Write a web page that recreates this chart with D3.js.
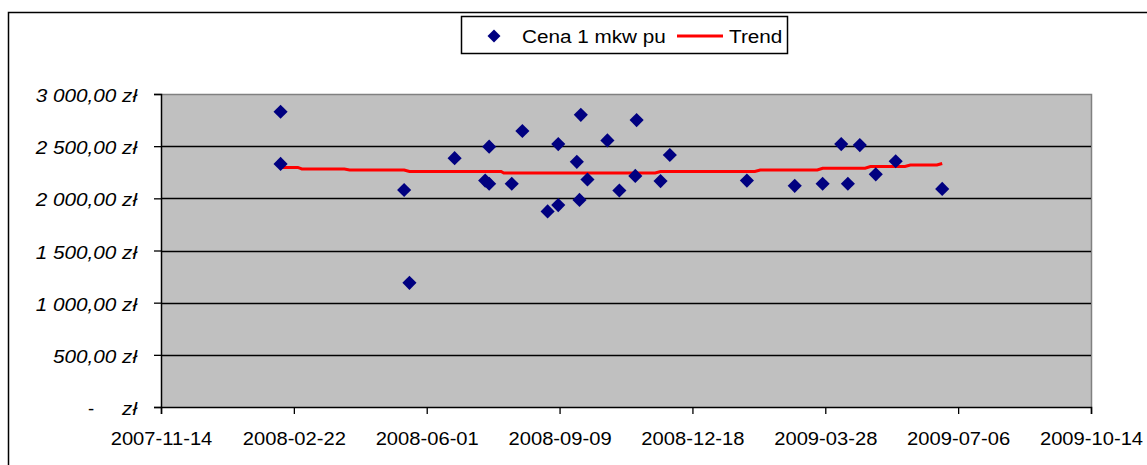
<!DOCTYPE html>
<html>
<head>
<meta charset="utf-8">
<script src="https://cdn.jsdelivr.net/npm/d3@7"></script>
<style>
  body { margin: 0; background: #fff; }
  svg { display: block; font-family: "Liberation Sans", Arial, sans-serif; }
</style>
</head>
<body>
<svg id="chart" width="1147" height="465"></svg>
<script>
// data
const priceDates = ["2008-02-12","2008-02-12","2008-05-15","2008-05-19","2008-06-22","2008-07-15","2008-07-18","2008-07-18",
  "2008-08-04","2008-08-12","2008-08-31","2008-09-08","2008-09-08","2008-09-22","2008-09-24","2008-09-25","2008-09-30",
  "2008-10-15","2008-10-24","2008-11-06","2008-11-05","2008-11-24","2008-12-01","2009-01-28","2009-03-05","2009-03-26",
  "2009-04-09","2009-04-14","2009-04-23","2009-05-05","2009-05-20","2009-06-24"];
const prices = [2830,2330,2080,1190,2385,2170,2495,2140,
  2140,2645,1875,1935,2520,2350,1985,2800,2180,
  2555,2075,2750,2215,2165,2415,2170,2120,2140,
  2520,2140,2510,2230,2355,2090];

const trendDates = ["2008-02-12","2008-02-25","2008-02-28","2008-03-31","2008-04-04","2008-05-15","2008-05-19",
  "2008-07-27","2008-07-29","2008-11-20","2008-11-24","2009-02-03","2009-02-07","2009-03-22","2009-03-26",
  "2009-04-27","2009-05-01","2009-05-27","2009-05-31","2009-06-20","2009-06-24"];
const trendPrices = [2296,2296,2281,2281,2272,2272,2257,
  2257,2243,2243,2257,2257,2272,2272,2288,
  2288,2305,2305,2320,2320,2334];

const xTickLabels = ["2007-11-14","2008-02-22","2008-06-01","2008-09-09","2008-12-18","2009-03-28","2009-07-06","2009-10-14"];
const yTicks = [0,500,1000,1500,2000,2500,3000];

const seriesNames = ["Cena 1 mkw pu", "Trend"];

const parse = d3.utcParse("%Y-%m-%d");
const sx = 1.12; // text in the picture is a bit wider than tall

let svg = d3.select('#chart');
let pLeft = 161, pRight = 1091, pTop = 94, pBottom = 407;

let x = d3.scaleUtc()
  .domain([parse(xTickLabels[0]), parse(xTickLabels[xTickLabels.length-1])])
  .range([pLeft, pRight]);

let y = d3.scaleLinear()
  .domain([0, 3000])
  .range([pBottom, pTop]);

let pl = d3.formatLocale({decimal: ",", thousands: " ", grouping: [3], currency: ["", " zł"]});
let fmt = pl.format("$,.2f");

// outer frame
svg.append('path')
  .attr('d', 'M8.5,470 L8.5,12.5 L1150,12.5')
  .attr('fill', 'none')
  .attr('stroke', '#000')
  .attr('stroke-width', 1.5);

// plot area
svg.append('rect')
  .attr('x', pLeft).attr('y', pTop)
  .attr('width', pRight-pLeft).attr('height', pBottom-pTop)
  .attr('fill', '#c0c0c0');

svg.append('path')
  .attr('d', `M${pLeft},${pTop+0.5} L${pRight+0.5},${pTop+0.5} L${pRight+0.5},${pBottom}`)
  .attr('fill', 'none')
  .attr('stroke', '#808080')
  .attr('stroke-width', 1.5);

svg.selectAll('.grid')
  .data(yTicks.filter(d => d>0 && d<3000))
  .enter()
  .append('line')
  .attr('class', 'grid')
  .attr('x1', pLeft).attr('x2', pRight)
  .attr('y1', d => Math.round(y(d))+0.5)
  .attr('y2', d => Math.round(y(d))+0.5)
  .attr('stroke', '#000')
  .attr('stroke-width', 1.3);

// y axis
let yAxis = svg.append('g')
  .attr('transform', `translate(${pLeft},0)`)
  .call(d3.axisLeft(y).tickValues(yTicks).tickSize(7).tickFormat(d => d === 0 ? 'zł' : fmt(d)));
yAxis.select('.domain').attr('stroke', '#000').attr('stroke-width', 1.5);
yAxis.selectAll('.tick line').attr('stroke', '#000').attr('stroke-width', 1.3);
yAxis.selectAll('.tick text')
  .attr('font-size', '18.5px')
  .attr('font-style', 'italic')
  .attr('fill', '#000')
  .attr('x', -24/sx)
  .attr('dy', '0.41em')
  .attr('transform', `scale(${sx},1)`);
yAxis.selectAll('.tick')
  .filter(d => d === 0)
  .append('text')
  .attr('font-size', '18.5px')
  .attr('fill', '#000')
  .attr('text-anchor', 'middle')
  .attr('x', -70)
  .attr('dy', '0.41em')
  .text('-');

// x axis
let xAxis = svg.append('g')
  .attr('transform', `translate(0,${pBottom})`)
  .call(d3.axisBottom(x).tickValues(xTickLabels.map(parse)).tickSize(7).tickFormat(d3.utcFormat("%Y-%m-%d")));
xAxis.select('.domain').attr('stroke', '#000').attr('stroke-width', 1.5);
xAxis.selectAll('.tick line').attr('stroke', '#000').attr('stroke-width', 1.3);
xAxis.selectAll('.tick text')
  .attr('font-size', '18px')
  .attr('fill', '#000')
  .attr('y', 38)
  .attr('dy', 0)
  .attr('transform', `scale(${sx},1)`);

// trend
let trend = trendDates.map((d, i) => [parse(d), trendPrices[i]]);
svg.append('path')
  .datum(trend)
  .attr('d', d3.line().x(d => x(d[0])).y(d => y(d[1])))
  .attr('fill', 'none')
  .attr('stroke', '#ff0000')
  .attr('stroke-width', 3);

// points
let diamond = d3.symbol(d3.symbolSquare, 100);
svg.selectAll('.pt')
  .data(priceDates.map((d, i) => [parse(d), prices[i]]))
  .enter()
  .append('path')
  .attr('class', 'pt')
  .attr('d', diamond)
  .attr('transform', d => `translate(${x(d[0])},${y(d[1])}) rotate(45)`)
  .attr('fill', '#000080');

// legend
let lg = svg.append('g');
lg.append('rect')
  .attr('x', 461.5).attr('y', 16.5)
  .attr('width', 326).attr('height', 37)
  .attr('fill', '#fff')
  .attr('stroke', '#000')
  .attr('stroke-width', 1.5);
lg.append('path')
  .attr('d', d3.symbol(d3.symbolSquare, 84))
  .attr('transform', 'translate(494,36) rotate(45)')
  .attr('fill', '#000080');
lg.append('line')
  .attr('x1', 677).attr('x2', 723)
  .attr('y1', 36).attr('y2', 36)
  .attr('stroke', '#ff0000')
  .attr('stroke-width', 3);
lg.selectAll('.lt')
  .data([[522, seriesNames[0]], [729, seriesNames[1]]])
  .enter()
  .append('text')
  .attr('class', 'lt')
  .attr('transform', d => `translate(${d[0]},42.5) scale(1.12,1)`)
  .attr('font-size', '18.5px')
  .attr('fill', '#000')
  .text(d => d[1]);
</script>
</body>
</html>
